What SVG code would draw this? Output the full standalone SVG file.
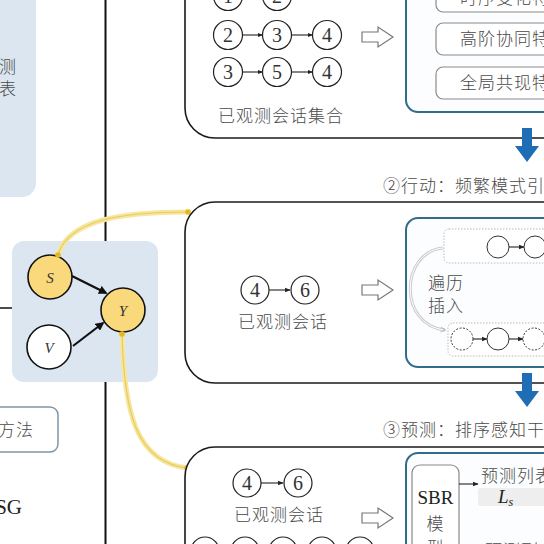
<svg xmlns="http://www.w3.org/2000/svg" width="544" height="544" viewBox="0 0 544 544">
<style>
.cn{font-family:"Noto Sans CJK SC","Noto Sans",sans-serif;fill:#4a4a4a;font-size:17px;font-weight:300;letter-spacing:1px}
.num{font-family:"Liberation Serif",serif;font-size:20px;fill:#333;text-anchor:middle;dominant-baseline:central}
.it{font-family:"Liberation Serif",serif;font-style:italic;font-size:15px;fill:#333;text-anchor:middle;dominant-baseline:central}
.c{fill:#fff;stroke:#222;stroke-width:1.2}
.sc{fill:#fff;stroke:#333;stroke-width:1}
.dc{fill:#fff;stroke:#333;stroke-width:1;stroke-dasharray:2,1.5}
.ln{stroke:#222;stroke-width:1.1;fill:none}
.panel{fill:#fff;stroke:#1a1a1a;stroke-width:1.6}
.teal{fill:#fbfdfe;stroke:#336b8a;stroke-width:2}
.gbox{fill:#fff;stroke:#8a8a8a;stroke-width:1.2}
.hollow{fill:#fff;stroke:#777;stroke-width:1.2}
.blue{fill:#1f6db5}
.glow{fill:none;stroke:#f6e6a0;stroke-width:5;stroke-linecap:round}
.gcore{fill:none;stroke:#e9cc5a;stroke-width:1.2}
.dot{fill:#e6b820}
</style>
<defs>
<marker id="ah" viewBox="0 0 10 10" refX="9" refY="5" markerWidth="5" markerHeight="5" orient="auto"><path d="M0,1 L10,5 L0,9 Z" fill="#222"/></marker>
<marker id="ahb" viewBox="0 0 10 10" refX="8" refY="5" markerWidth="4" markerHeight="4" orient="auto"><path d="M0,0 L10,5 L0,10 Z" fill="#111"/></marker>
<marker id="ahg" viewBox="0 0 10 10" refX="8" refY="5" markerWidth="6" markerHeight="6" orient="auto"><path d="M1,1 L9,5 L1,9" fill="none" stroke="#aaa" stroke-width="1.3"/></marker>
<path id="hollowArrow" d="M0,-5 H16 V-10 L31,0 L16,10 V5 H0 Z"/>
<path id="blueArrow" d="M-5,0 H5 V18 H12 L0,34 L-12,18 H-5 Z"/>
</defs>

<!-- left column -->
<g id="left-panel">
<rect x="-20" y="-20" width="56" height="217" rx="14" fill="#dce6f1"/>
<text class="cn" x="17" y="73" text-anchor="end" font-size="16.5" letter-spacing="0">测</text>
<text class="cn" x="17" y="95" text-anchor="end" font-size="16.5" letter-spacing="0">表</text>
</g>
<line x1="105.5" y1="0" x2="105.5" y2="544" stroke="#111" stroke-width="2"/>
<line x1="0" y1="308" x2="12" y2="308" stroke="#111" stroke-width="1.5"/>
<g id="method-box">
<rect x="-20" y="407" width="78" height="45" rx="8" fill="#fff" stroke="#7f95a8" stroke-width="1.5"/>
<text class="cn" x="34" y="436" text-anchor="end" letter-spacing="0">方法</text>
</g>
<g id="sg-label"><text x="22" y="514" text-anchor="end" font-family="Liberation Serif,serif" font-size="21" fill="#222">SG</text></g>

<!-- causal graph -->
<g id="causal-panel"><rect x="12" y="241" width="146" height="141" rx="12" fill="#dce6f1"/></g>
<g id="connectors">
<line x1="72" y1="276" x2="106" y2="293" stroke="#111" stroke-width="2.2" marker-end="url(#ahb)"/>
<line x1="73" y1="346" x2="103" y2="323" stroke="#111" stroke-width="2.2" marker-end="url(#ahb)"/>
<path class="glow" d="M58,254 C70,220 120,212 188,212"/>
<path class="gcore" d="M58,254 C70,220 120,212 188,212"/>
<path class="glow" d="M122,333 C124,415 137,462 187,468"/>
<path class="gcore" d="M122,333 C124,415 137,462 187,468"/>
</g>
<g id="node-S"><circle cx="50" cy="277" r="22" fill="#f9d97c" stroke="#111" stroke-width="1.6"/><text class="it" x="50" y="278">S</text></g>
<g id="node-Y"><circle cx="123" cy="310" r="22" fill="#f9d97c" stroke="#111" stroke-width="1.6"/><text class="it" x="123" y="311">Y</text></g>
<g id="node-V"><circle cx="49" cy="347" r="22" fill="#fff" stroke="#111" stroke-width="1.6"/><text class="it" x="49" y="348">V</text></g>
<g id="dots">
<circle class="dot" cx="58" cy="255" r="2.8"/><circle class="dot" cx="188" cy="212" r="2.8"/>
<circle class="dot" cx="122" cy="334" r="2.8"/><circle class="dot" cx="187" cy="468" r="2.8"/>
</g>

<!-- top panel -->
<g id="panel-1">
<path class="panel" d="M560,138 H215 A30,30 0 0 1 185,108 V-10"/>
<line class="ln" x1="242.5" y1="-4" x2="262.5" y2="-4" marker-end="url(#ah)"/>
<line class="ln" x1="242.5" y1="35" x2="262.5" y2="35" marker-end="url(#ah)"/>
<line class="ln" x1="291.5" y1="35" x2="312.5" y2="35" marker-end="url(#ah)"/>
<line class="ln" x1="242.5" y1="72" x2="262.5" y2="72" marker-end="url(#ah)"/>
<line class="ln" x1="291.5" y1="72" x2="312.5" y2="72" marker-end="url(#ah)"/>
<circle class="c" cx="228" cy="-4" r="14.5"/><text class="num" x="228" y="-4">1</text>
<circle class="c" cx="277" cy="-4" r="14.5"/><text class="num" x="277" y="-4">2</text>
<circle class="c" cx="228" cy="35" r="14.5"/><text class="num" x="228" y="35">2</text>
<circle class="c" cx="277" cy="35" r="14.5"/><text class="num" x="277" y="35">3</text>
<circle class="c" cx="327" cy="35" r="14.5"/><text class="num" x="327" y="35">4</text>
<circle class="c" cx="228" cy="72" r="14.5"/><text class="num" x="228" y="72">3</text>
<circle class="c" cx="277" cy="72" r="14.5"/><text class="num" x="277" y="72">5</text>
<circle class="c" cx="327" cy="72" r="14.5"/><text class="num" x="327" y="72">4</text>
<text class="cn" x="218" y="122" font-size="18">已观测会话集合</text>
<use href="#hollowArrow" class="hollow" x="362" y="37"/>
<rect class="teal" x="406" y="-20" width="160" height="132" rx="12"/>
<rect class="gbox" x="436" y="-22" width="130" height="34" rx="7"/>
<rect class="gbox" x="436" y="23" width="130" height="32" rx="7"/>
<rect class="gbox" x="436" y="67" width="130" height="32" rx="7"/>
<text class="cn" x="460" y="4" font-size="18">时序变化特</text>
<text class="cn" x="460" y="45" font-size="18">高阶协同特</text>
<text class="cn" x="460" y="89" font-size="18">全局共现特</text>
</g>
<use href="#blueArrow" class="blue" x="527" y="128"/>
<text class="cn" x="383" y="192" font-size="17.5">②行动：频繁模式引</text>

<!-- middle panel -->
<g id="panel-2">
<path class="panel" d="M560,202 H215 A30,30 0 0 0 185,232 V353 A30,30 0 0 0 215,383 H560"/>
<line class="ln" x1="269" y1="290" x2="290" y2="290" marker-end="url(#ah)"/>
<circle class="c" cx="255" cy="290" r="14"/><text class="num" x="255" y="290">4</text>
<circle class="c" cx="305" cy="290" r="14"/><text class="num" x="305" y="290">6</text>
<text class="cn" x="283" y="328" text-anchor="middle" font-size="18">已观测会话</text>
<use href="#hollowArrow" class="hollow" x="362" y="290"/>
<rect class="teal" x="406" y="218" width="160" height="149" rx="12"/>
<rect x="444" y="229" width="120" height="34" rx="5" fill="#fff" stroke="#bbb" stroke-width="1" stroke-dasharray="1.5,1.5"/>
<line class="ln" x1="509" y1="247" x2="524" y2="247" marker-end="url(#ah)"/>
<circle class="sc" cx="498" cy="247" r="11"/><circle class="sc" cx="535" cy="247" r="11"/>
<rect x="448" y="323" width="120" height="33" rx="5" fill="#fff" stroke="#bbb" stroke-width="1" stroke-dasharray="1.5,1.5"/>
<line class="ln" x1="473" y1="339" x2="487" y2="339" marker-end="url(#ah)"/>
<line class="ln" x1="509" y1="339" x2="523" y2="339" marker-end="url(#ah)"/>
<circle class="dc" cx="462" cy="339" r="11"/><circle class="sc" cx="498" cy="339" r="11"/><circle class="dc" cx="534" cy="339" r="11"/>
<path d="M443,248 C400,252 398,325 445,330" fill="none" stroke="#ccc" stroke-width="3"/>
<path d="M443,248 C400,252 398,325 445,330" fill="none" stroke="#fff" stroke-width="1" marker-end="url(#ahg)"/>
<text class="cn" x="428" y="289" font-size="18">遍历</text>
<text class="cn" x="428" y="312" font-size="18">插入</text>
</g>
<use href="#blueArrow" class="blue" x="527" y="373"/>
<text class="cn" x="383" y="436" font-size="17.5">③预测：排序感知干</text>

<!-- bottom panel -->
<g id="panel-3">
<path class="panel" d="M560,447 H215 A30,30 0 0 0 185,477 V560"/>
<line class="ln" x1="261" y1="483" x2="283" y2="483" marker-end="url(#ah)"/>
<circle class="c" cx="247" cy="483" r="14"/><text class="num" x="247" y="483">4</text>
<circle class="c" cx="298" cy="483" r="14"/><text class="num" x="298" y="483">6</text>
<text class="cn" x="279" y="521" text-anchor="middle" font-size="18">已观测会话</text>
<circle class="c" cx="205" cy="551" r="14"/>
<circle class="c" cx="245" cy="551" r="14"/>
<circle class="c" cx="283" cy="551" r="14"/>
<circle class="c" cx="322" cy="551" r="14"/>
<circle class="c" cx="360" cy="551" r="14"/>
<use href="#hollowArrow" class="hollow" x="362" y="518"/>
<rect class="teal" x="406" y="453" width="160" height="120" rx="12"/>
<rect class="gbox" x="412" y="465" width="47" height="100" rx="8"/>
<text x="435.5" y="504" text-anchor="middle" font-family="Liberation Serif,serif" font-size="19" fill="#222">SBR</text>
<text class="cn" x="435.5" y="530" text-anchor="middle" font-size="18" letter-spacing="0">模</text>
<text class="cn" x="435.5" y="554" text-anchor="middle" font-size="18" letter-spacing="0">型</text>
<line class="ln" x1="459" y1="484" x2="478" y2="484" marker-end="url(#ah)"/>
<text class="cn" x="481" y="482" font-size="17">预测列表</text>
<rect x="478" y="488" width="70" height="18" rx="3" fill="#eeeeee"/>
<text x="498" y="503" font-family="Liberation Serif,serif" font-style="italic" font-size="19" fill="#222">L<tspan font-size="12" dy="3">s</tspan></text>
<text class="cn" x="485" y="557" font-size="17">预测列表</text>
</g>
</svg>
